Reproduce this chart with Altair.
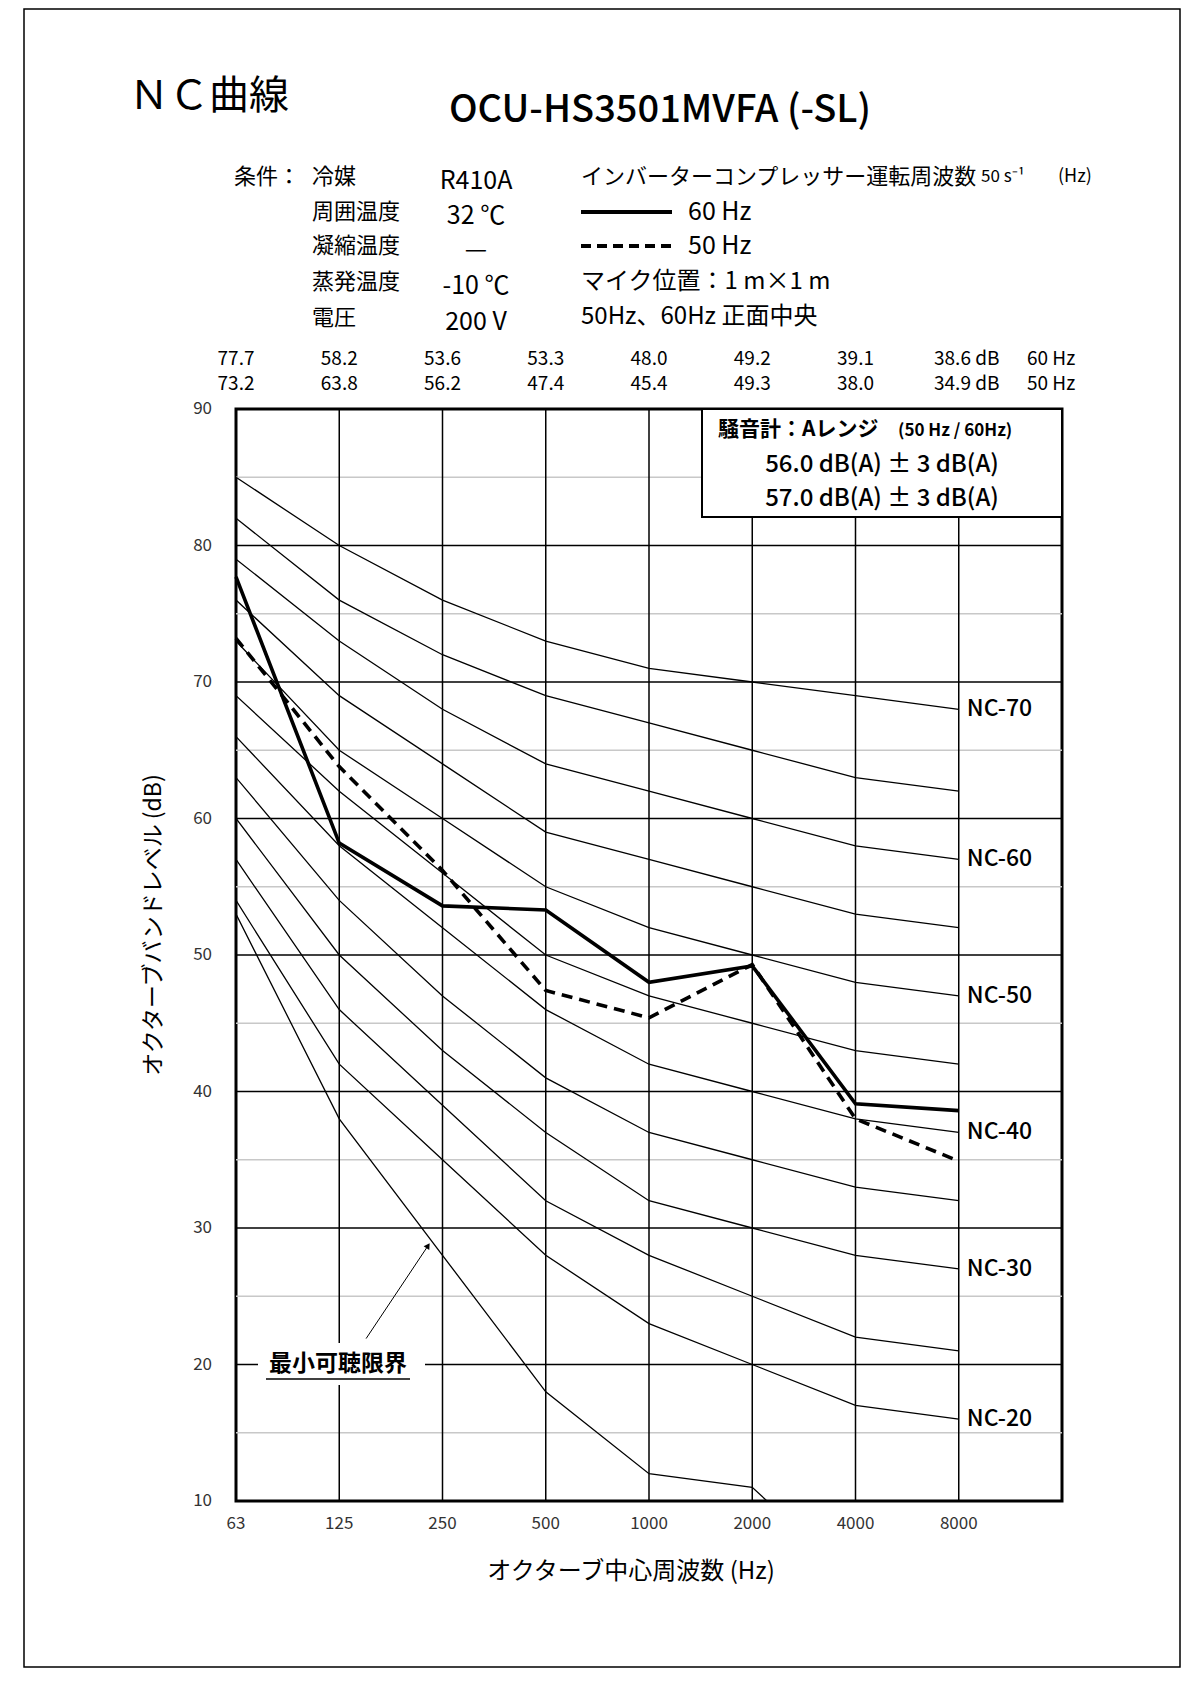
import altair as alt
import pandas as pd

FONT = "Noto Sans CJK JP"

# ---------------- data ----------------
freqs = ["63", "125", "250", "500", "1000", "2000", "4000", "8000"]
nc_names = ["NC-70", "NC-65", "NC-60", "NC-55", "NC-50", "NC-45",
            "NC-40", "NC-35", "NC-30", "NC-25", "NC-20"]
nc_70 = [85, 80, 76, 73, 71, 70, 69, 68]
nc_65 = [82, 76, 72, 69, 67, 65, 63, 62]
nc_60 = [79, 73, 68, 64, 62, 60, 58, 57]
nc_55 = [76, 69, 64, 59, 57, 55, 53, 52]
nc_50 = [73, 65, 60, 55, 52, 50, 48, 47]
nc_45 = [69, 62, 56, 50, 47, 45, 43, 42]
nc_40 = [66, 58, 52, 46, 42, 40, 38, 37]
nc_35 = [63, 54, 47, 41, 37, 35, 33, 32]
nc_30 = [60, 50, 43, 37, 32, 30, 28, 27]
nc_25 = [57, 46, 39, 32, 28, 25, 22, 21]
nc_20 = [54, 42, 35, 28, 23, 20, 17, 16]
nc_curves = [nc_70, nc_65, nc_60, nc_55, nc_50, nc_45, nc_40, nc_35, nc_30, nc_25, nc_20]
threshold = [53, 38, 28, 18, 12, 11, 4]          # 最小可聴限界 (runs off the bottom)
labelled_nc = ["NC-70", "NC-60", "NC-50", "NC-40", "NC-30", "NC-20"]

hz60 = [77.7, 58.2, 53.6, 53.3, 48.0, 49.2, 39.1, 38.6]
hz50 = [73.2, 63.8, 56.2, 47.4, 45.4, 49.3, 38.0, 34.9]

y_major = [20, 30, 40, 50, 60, 70, 80]
y_minor = [15, 25, 35, 45, 55, 65, 75, 85]
y_ticks = [10, 20, 30, 40, 50, 60, 70, 80, 90]

cond_labels = ["冷媒", "周囲温度", "凝縮温度", "蒸発温度", "電圧"]
cond_values = ["R410A", "32 ℃", "—", "-10 ℃", "200 V"]

# ---------------- tables ----------------
curve_rows = []
for name, vals in zip(nc_names, nc_curves):
    for i, v in enumerate(vals):
        curve_rows.append({"name": name, "idx": i, "db": v})
curves_df = pd.DataFrame(curve_rows)
ends_df = pd.DataFrame([{"name": n, "idx": 7, "db": nc_curves[nc_names.index(n)][7]}
                        for n in labelled_nc])
thr_df = pd.DataFrame({"idx": list(range(len(threshold))), "db": threshold})
meas_df = pd.DataFrame({"idx": list(range(8)), "v60": hz60, "v50": hz50})
xlab_df = pd.DataFrame({"idx": list(range(8)), "f": freqs})
ylab_df = pd.DataFrame({"db": y_ticks})

W, H = 826, 1092
XS = alt.Scale(domain=[0, 8], nice=False, zero=False)
YS = alt.Scale(domain=[10, 90], nice=False, zero=False)


def X(field="idx"):
    return alt.X(f"{field}:Q", scale=XS, axis=None)


def Y(field="db"):
    return alt.Y(f"{field}:Q", scale=YS, axis=None)


def txt(s, x, y, size=22, align="left", weight="normal", angle=0, color="black"):
    kw = dict(align=align, baseline="middle", fontSize=size, fontWeight=weight,
              font=FONT, color=color)
    if angle:
        kw["angle"] = angle
    return alt.Chart(alt.Data(values=[{"t": s}])).mark_text(**kw).encode(
        x=alt.value(x), y=alt.value(y), text="t:N")


one = alt.Data(values=[{"a": 1}])

# ---------------- grid ----------------
minor = alt.Chart(pd.DataFrame({"v": y_minor})).mark_rule(
    color="#c8c8c8", strokeWidth=1.5).encode(y=Y("v"))
major = alt.Chart(pd.DataFrame({"v": y_major})).mark_rule(
    color="black", strokeWidth=1.5).encode(y=Y("v"))
vgrid = alt.Chart(pd.DataFrame({"i": list(range(1, 8))})).mark_rule(
    color="black", strokeWidth=1.5).encode(x=X("i"))

# tick labels (drawn through the scales)
xlabels = alt.Chart(xlab_df).mark_text(fontSize=17, font=FONT, color="#333",
                                       baseline="middle").encode(
    x=X(), y=alt.value(H + 23), text="f:N")
ylabels = alt.Chart(ylab_df).mark_text(fontSize=17, font=FONT, color="#333",
                                       baseline="middle", align="right").encode(
    x=alt.value(-24), y=Y(), text="db:N")

# ---------------- curves ----------------
nc_lines = alt.Chart(curves_df).mark_line(color="black", strokeWidth=1.3, clip=True).encode(
    x=X(), y=Y(), detail="name:N")
thr_line = alt.Chart(thr_df).mark_line(color="black", strokeWidth=1.3, clip=True).encode(
    x=X(), y=Y())
nc_text = alt.Chart(ends_df).mark_text(align="left", baseline="middle", dx=8,
                                        fontSize=23, fontWeight=500, font=FONT,
                                        color="black").encode(
    x=X(), y=Y(), text="name:N")

line60 = alt.Chart(meas_df).mark_line(color="black", strokeWidth=3.6).encode(
    x=X(), y=Y("v60"))
line50 = alt.Chart(meas_df).mark_line(color="black", strokeWidth=3.6,
                                      strokeDash=[11, 7]).encode(x=X(), y=Y("v50"))

# ---------------- top value rows ----------------
first7 = meas_df[meas_df.idx < 7]
last1 = meas_df[meas_df.idx == 7]
RF = 19
row60 = alt.Chart(first7).mark_text(fontSize=RF, font=FONT, baseline="middle").encode(
    x=X(), y=alt.value(-50), text=alt.Text("v60:Q", format=".1f"))
row50 = alt.Chart(first7).mark_text(fontSize=RF, font=FONT, baseline="middle").encode(
    x=X(), y=alt.value(-25), text=alt.Text("v50:Q", format=".1f"))
row60_last = alt.Chart(last1).transform_calculate(
    t="format(datum.v60, '.1f') + ' dB'").mark_text(
    fontSize=RF, font=FONT, baseline="middle", dx=8).encode(
    x=X(), y=alt.value(-50), text="t:N")
row50_last = alt.Chart(last1).transform_calculate(
    t="format(datum.v50, '.1f') + ' dB'").mark_text(
    fontSize=RF, font=FONT, baseline="middle", dx=8).encode(
    x=X(), y=alt.value(-25), text="t:N")

# ---------------- legend box ----------------
box = alt.Chart(one).mark_rect(fill="white", stroke="black", strokeWidth=2).encode(
    x=alt.value(466), x2=alt.value(826), y=alt.value(0), y2=alt.value(108))

# ---------------- threshold annotation ----------------
thr_bg = alt.Chart(one).mark_rect(fill="white").encode(
    x=alt.value(22), x2=alt.value(189), y=alt.value(934), y2=alt.value(976))
thr_under = alt.Chart(one).mark_rule(color="black", strokeWidth=1.5).encode(
    x=alt.value(30), x2=alt.value(174), y=alt.value(970))
arrow_df = pd.DataFrame({"x1": [1.26], "y1": [21.9], "x2": [1.86], "y2": [28.7]})
arrow_line = alt.Chart(arrow_df).mark_rule(color="black", strokeWidth=1).encode(
    x=X("x1"), y=Y("y1"), x2="x2:Q", y2="y2:Q")
arrow_head = alt.Chart(arrow_df).mark_point(shape="triangle-up", filled=True, color="black",
                                            size=45, angle=33, opacity=1).encode(
    x=X("x2"), y=Y("y2"))

# ---------------- page frame ----------------
frame = alt.Chart(one).mark_rect(fill=None, stroke="black", strokeWidth=1.5).encode(
    x=alt.value(-212), x2=alt.value(944), y=alt.value(-400), y2=alt.value(1258))

# legend lines in header
leg_solid = alt.Chart(one).mark_rule(color="black", strokeWidth=4).encode(
    x=alt.value(345), x2=alt.value(436), y=alt.value(-197))
leg_dash = alt.Chart(one).mark_rule(color="black", strokeWidth=4, strokeDash=[10, 6]).encode(
    x=alt.value(345), x2=alt.value(436), y=alt.value(-163))

texts = [
    txt("ＮＣ曲線", -107, -312, size=40),
    txt("OCU-HS3501MVFA (-SL)", 424, -298, size=38, align="center", weight=500),
    txt("条件：", -2, -232, size=22),
]
rows_y = [-232, -197, -163, -127, -91]
for lab, val, yy in zip(cond_labels, cond_values, rows_y):
    texts.append(txt(lab, 76, yy, size=22))
    texts.append(txt(val, 240, yy + 4, size=25, align="center"))
texts += [
    txt("インバーターコンプレッサー運転周波数", 345, -232, size=22),
    txt("50 s⁻¹", 745, -232, size=17),
    txt("(Hz)", 822, -232, size=18),
    txt("60 Hz", 452, -197, size=25),
    txt("50 Hz", 452, -163, size=25),
    txt("マイク位置：1 m×1 m", 345, -127, size=24),
    txt("50Hz、60Hz 正面中央", 345, -92, size=24),
    txt("60 Hz", 791, -50, size=RF),
    txt("50 Hz", 791, -25, size=RF),
    txt("騒音計：Aレンジ", 482, 21, size=21, weight="bold"),
    txt("(50 Hz / 60Hz)", 662, 22, size=17, weight="bold"),
    txt("56.0 dB(A) ± 3 dB(A)", 646, 56, size=24, align="center", weight=500),
    txt("57.0 dB(A) ± 3 dB(A)", 646, 90, size=24, align="center", weight=500),
    txt("最小可聴限界", 102, 955, size=23, align="center", weight="bold"),
    txt("オクターブバンドレベル (dB)", -82, 516, size=23, align="center", angle=270),
    txt("オクターブ中心周波数 (Hz)", 395, 1163, size=24, align="center"),
]

chart = alt.layer(
    minor, major, vgrid, nc_lines, thr_line, line50, line60, nc_text,
    box, thr_bg, thr_under, arrow_line, arrow_head, xlabels, ylabels,
    row60, row50, row60_last, row50_last, leg_solid, leg_dash, frame, *texts
).properties(
    width=W, height=H,
    padding={"left": 228, "top": 401, "right": 120, "bottom": 167},
    autosize=alt.AutoSizeParams(type="none"),
).configure(
    background="white",
    view=alt.ViewConfig(stroke="black", strokeWidth=3),
)

chart.save("out.html", embed_options={"renderer": "svg", "actions": False})
